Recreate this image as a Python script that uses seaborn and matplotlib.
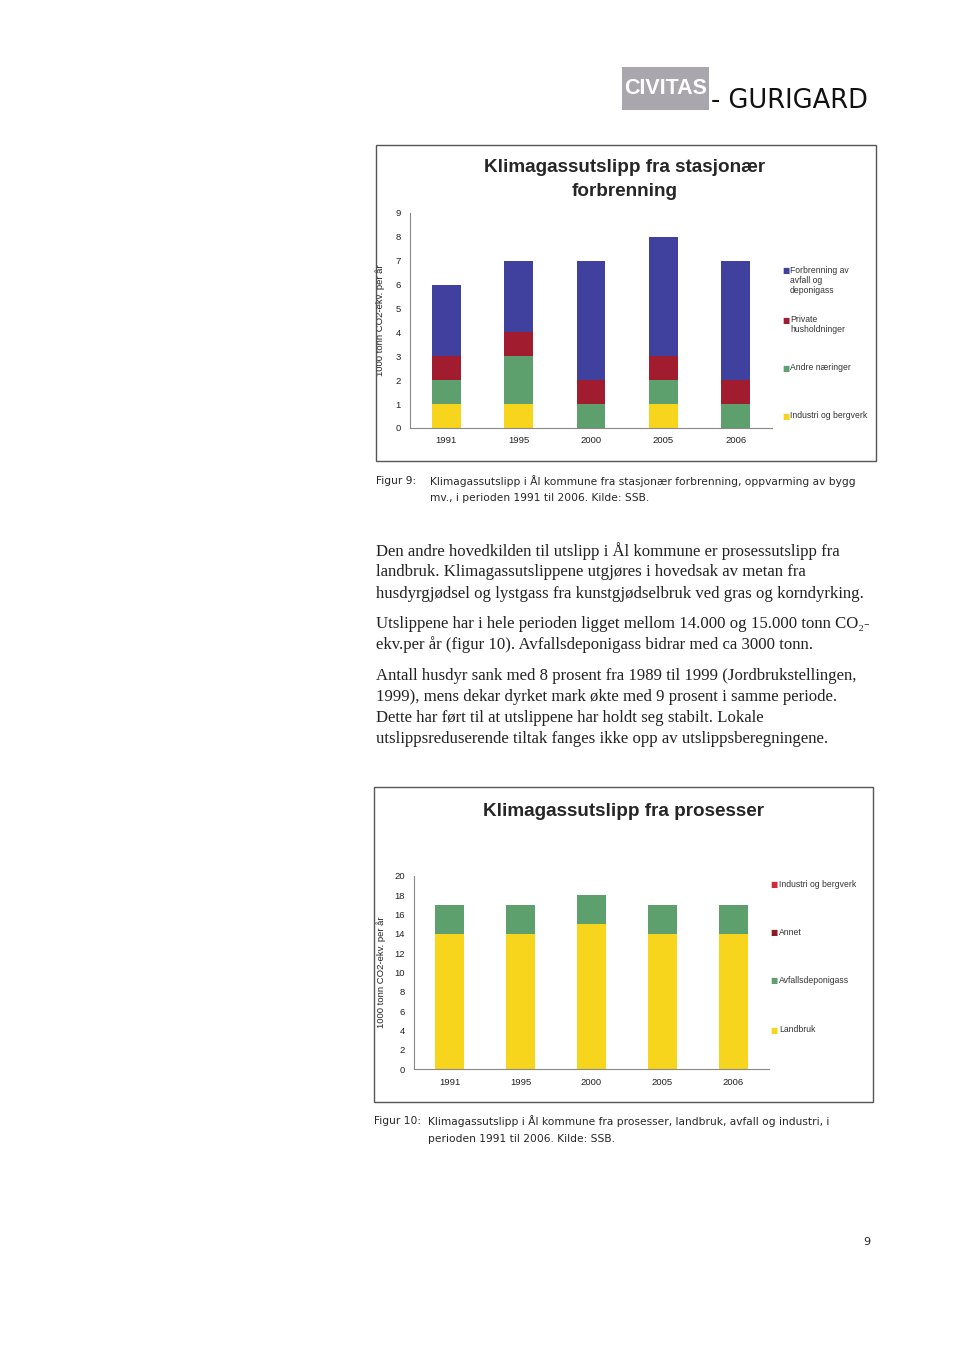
import numpy as np
import pandas as pd
import seaborn as sns
import matplotlib.pyplot as plt
from matplotlib.patches import Rectangle

years = ["1991", "1995", "2000", "2005", "2006"]

# Figur 9 - stasjonær forbrenning (1000 tonn CO2-ekv. per år), nederst -> øverst
stas_names = ["Industri og bergverk", "Andre næringer", "Private husholdninger",
              "Forbrenning av avfall og deponigass"]
stas_industri = [1, 1, 0, 1, 0]
stas_andre = [1, 2, 1, 1, 1]
stas_private = [1, 1, 1, 1, 1]
stas_forbrenning = [3, 3, 5, 5, 5]
stas_colors = ["#f7d51c", "#5e9f6e", "#a01c2e", "#40409e"]
stas_legend = ["Forbrenning av\navfall og\ndeponigass", "Private\nhusholdninger",
               "Andre næringer", "Industri og bergverk"]
stas_legend_colors = ["#40409e", "#a01c2e", "#5e9f6e", "#f7d51c"]

# Figur 10 - prosesser, nederst -> øverst
pros_names = ["Landbruk", "Avfallsdeponigass", "Annet", "Industri og bergverk"]
pros_landbruk = [14, 14, 15, 14, 14]
pros_avfall = [3, 3, 3, 3, 3]
pros_annet = [0, 0, 0, 0, 0]
pros_industri = [0, 0, 0, 0, 0]
pros_colors = ["#f7d51c", "#5e9f6e", "#8e1a22", "#d2283a"]
pros_legend = ["Industri og bergverk", "Annet", "Avfallsdeponigass", "Landbruk"]
pros_legend_colors = ["#d2283a", "#8e1a22", "#5e9f6e", "#f7d51c"]

W, H = 960, 1352
SANS = ["Liberation Sans", "DejaVu Sans"]
SERIF = ["Liberation Serif", "DejaVu Serif"]


def fx(x):
    return x / W


def fy(y):
    return 1 - y / H


def stacked(ax, names, layers, colors):
    df = pd.DataFrame(dict(zip(names, layers)))
    df["year"] = years
    cum = df[names].cumsum(axis=1)
    # tegn kumulative summer ovenfra og ned (seaborn har ikke stablede søyler)
    for name, col in reversed(list(zip(names, colors))):
        if df[name].sum() == 0:
            continue
        sns.barplot(x=df["year"], y=cum[name], order=years, color=col, saturation=1,
                    width=0.4, errorbar=None, linewidth=0, ax=ax)


def style_axes(ax, ymax, step, label_x):
    ax.set_xlim(-0.5, 4.5)
    ax.set_ylim(0, ymax)
    ax.set_yticks(np.arange(0, ymax + 1, step))
    ax.set_xticks(np.arange(-0.5, 5, 1), minor=True)
    ax.tick_params(axis="x", which="major", length=0, labelsize=6.8, pad=6, colors="#222")
    ax.tick_params(axis="x", which="minor", length=3, direction="out", color="#888")
    ax.tick_params(axis="y", length=3, direction="out", color="#888", labelsize=6.8, colors="#222")
    for lab in ax.get_xticklabels() + ax.get_yticklabels():
        lab.set_family(SANS)
    for s in ["top", "right"]:
        ax.spines[s].set_visible(False)
    for s in ["left", "bottom"]:
        ax.spines[s].set_color("#888")
        ax.spines[s].set_linewidth(0.8)
    ax.set_xlabel("")
    ax.set_ylabel("1000 tonn CO2-ekv. per år", fontsize=6.8, family=SANS, color="#222")
    ax.yaxis.set_label_coords(label_x, 0.5)


def legend(fig, labels, colors, xm, xt, ys):
    for lab, col, y in zip(labels, colors, ys):
        fig.text(fx(xm), fy(y), "■", color=col, fontsize=5.5, ha="center", va="center",
                 family="DejaVu Sans")
        fig.text(fx(xt), fy(y - 5), lab, fontsize=6.2, va="top", ha="left", family=SANS,
                 color="#333", linespacing=1.15)


sns.set_style("white")
plt.rcParams["font.family"] = SANS

fig = plt.figure(figsize=(W / 100, H / 100), dpi=100)
fig.patch.set_facecolor("white")

# topptekst
fig.patches.append(Rectangle((fx(622), fy(110)), fx(709) - fx(622), fy(67) - fy(110),
                             transform=fig.transFigure, facecolor="#aaa6ae", edgecolor="none"))
fig.text(fx(665.5), fy(89), "CIVITAS", color="white", fontsize=15.5, fontweight="bold",
         ha="center", va="center", family=SANS)
fig.text(fx(711), fy(101), "- GURIGARD", color="#111", fontsize=18.5, ha="left",
         va="center", family="DejaVu Sans")

# Figur 9
fig.patches.append(Rectangle((fx(376), fy(461)), fx(876) - fx(376), fy(145) - fy(461),
                             transform=fig.transFigure, fill=False, edgecolor="#555", lw=1))
fig.text(fx(625), fy(168), "Klimagassutslipp fra stasjonær", fontsize=13.6,
         fontweight="bold", ha="center", va="center", family=SANS)
fig.text(fx(625), fy(192), "forbrenning", fontsize=13.6, fontweight="bold",
         ha="center", va="center", family=SANS)
ax1 = fig.add_axes([fx(410), fy(428), fx(772) - fx(410), fy(213) - fy(428)])
stacked(ax1, stas_names, [stas_industri, stas_andre, stas_private, stas_forbrenning],
        stas_colors)
style_axes(ax1, 9, 1, -0.069)
legend(fig, stas_legend, stas_legend_colors, 785.5, 790, [271, 320, 368, 416])

CAP = 7.7
fig.text(fx(376), fy(481), "Figur 9:", fontsize=CAP, va="center", family="DejaVu Sans")
fig.text(fx(430), fy(481),
         "Klimagassutslipp i Ål kommune fra stasjonær forbrenning, oppvarming av bygg",
         fontsize=CAP, va="center", family="DejaVu Sans")
fig.text(fx(430), fy(498), "mv., i perioden 1991 til 2006. Kilde: SSB.",
         fontsize=CAP, va="center", family="DejaVu Sans")

# brødtekst
body = [
    (551, "Den andre hovedkilden til utslipp i Ål kommune er prosessutslipp fra"),
    (572, "landbruk. Klimagassutslippene utgjøres i hovedsak av metan fra"),
    (594, "husdyrgjødsel og lystgass fra kunstgjødselbruk ved gras og korndyrking."),
    (624, "Utslippene har i hele perioden ligget mellom 14.000 og 15.000 tonn CO₂-"),
    (645, "ekv.per år (figur 10). Avfallsdeponigass bidrar med ca 3000 tonn."),
    (676, "Antall husdyr sank med 8 prosent fra 1989 til 1999 (Jordbrukstellingen,"),
    (697, "1999), mens dekar dyrket mark økte med 9 prosent i samme periode."),
    (718, "Dette har ført til at utslippene har holdt seg stabilt. Lokale"),
    (739, "utslippsreduserende tiltak fanges ikke opp av utslippsberegningene."),
]
for y, line in body:
    fig.text(fx(376), fy(y), line, fontsize=12.1, va="center", family=SERIF, color="#222")

# Figur 10
fig.patches.append(Rectangle((fx(374), fy(1102)), fx(873) - fx(374), fy(787) - fy(1102),
                             transform=fig.transFigure, fill=False, edgecolor="#555", lw=1))
fig.text(fx(623.5), fy(811), "Klimagassutslipp fra prosesser", fontsize=13.6,
         fontweight="bold", ha="center", va="center", family=SANS)
ax2 = fig.add_axes([fx(414), fy(1069.3), fx(769) - fx(414), fy(875.7) - fy(1069.3)])
stacked(ax2, pros_names, [pros_landbruk, pros_avfall, pros_annet, pros_industri],
        pros_colors)
style_axes(ax2, 20, 2, -0.079)
legend(fig, pros_legend, pros_legend_colors, 774, 779, [885, 933, 981, 1030])

fig.text(fx(374), fy(1121), "Figur 10:", fontsize=CAP, va="center", family="DejaVu Sans")
fig.text(fx(428), fy(1121),
         "Klimagassutslipp i Ål kommune fra prosesser, landbruk, avfall og industri, i",
         fontsize=CAP, va="center", family="DejaVu Sans")
fig.text(fx(428), fy(1139), "perioden 1991 til 2006. Kilde: SSB.",
         fontsize=CAP, va="center", family="DejaVu Sans")

fig.text(fx(867), fy(1242), "9", fontsize=8, ha="center", va="center", family="DejaVu Sans")

fig.savefig("out.png", dpi=100)
